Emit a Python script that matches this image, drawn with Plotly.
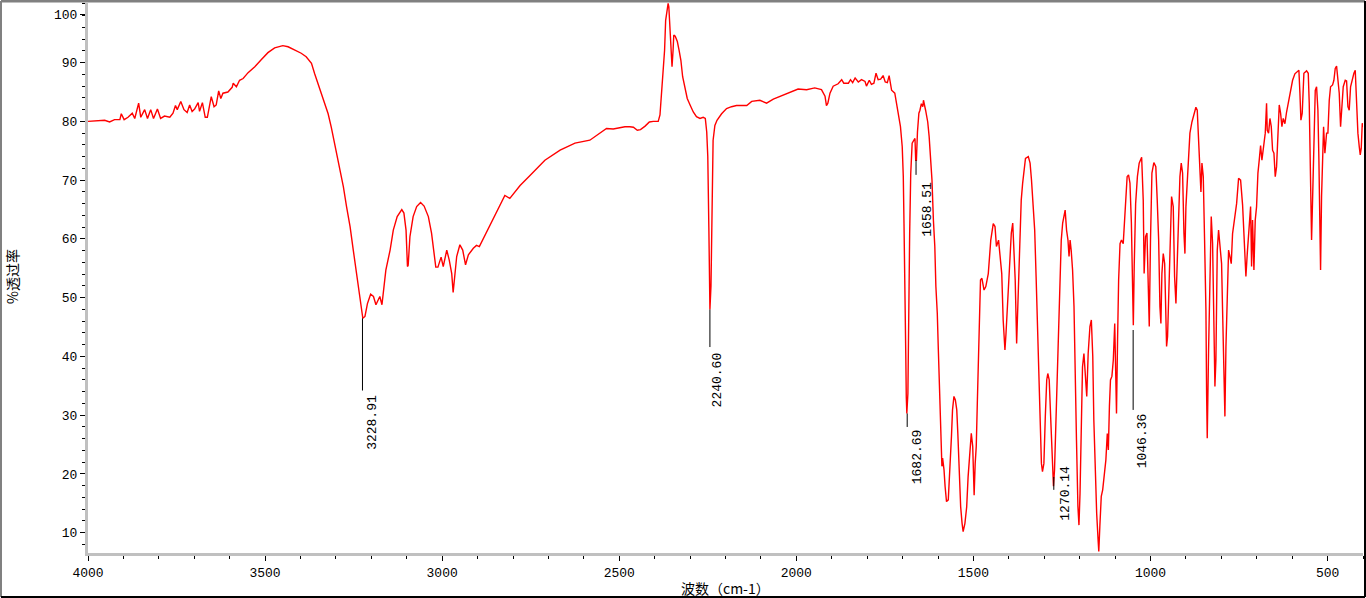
import plotly.graph_objects as go

# IR spectrum (wavenumber in cm-1, %T)
wavenumber = [
    4000, 3967, 3953, 3939, 3925, 3910, 3906, 3898, 3887, 3875, 3868, 3857, 3851, 3840, 3832, 3823,
    3815, 3804, 3795, 3784, 3769, 3760, 3753, 3748, 3738, 3729, 3720, 3713, 3706, 3699, 3689, 3685,
    3677, 3669, 3663, 3652, 3644, 3638, 3631, 3625, 3619, 3605, 3593, 3590, 3581, 3572, 3562, 3548,
    3529, 3511, 3492, 3473, 3450, 3435, 3417, 3398, 3384, 3369, 3360, 3351, 3341, 3332, 3322, 3313,
    3300, 3289, 3279, 3270, 3260, 3251, 3241, 3232, 3224, 3218, 3211, 3202, 3194, 3187, 3176, 3170,
    3164, 3159, 3147, 3138, 3127, 3114, 3108, 3102, 3098, 3096, 3091, 3082, 3072, 3061, 3051, 3039,
    3030, 3023, 3018, 3012, 3003, 2997, 2987, 2980, 2973, 2969, 2964, 2959, 2950, 2942, 2934, 2926,
    2912, 2903, 2895, 2865, 2837, 2823, 2809, 2780, 2752, 2710, 2667, 2625, 2583,
    2554, 2536, 2517, 2498, 2484, 2470, 2460, 2449, 2440, 2427, 2415, 2404, 2390, 2385, 2380, 2376,
    2372, 2369, 2365, 2362, 2360, 2357, 2354, 2351, 2348, 2346, 2342, 2336, 2331, 2326, 2321, 2315,
    2308, 2300, 2291, 2282, 2272, 2263, 2257, 2253, 2250, 2247, 2244, 2241, 2238, 2235, 2230, 2224,
    2211, 2197, 2183, 2169, 2140, 2126, 2103, 2084, 2065, 2042, 2018, 1995, 1971, 1948, 1929, 1919,
    1915, 1911, 1905, 1896, 1882, 1872, 1866, 1853, 1847, 1841, 1834, 1825, 1816, 1806, 1802, 1794,
    1788, 1781, 1775, 1769, 1762, 1755, 1749, 1743, 1738, 1734,
    1731, 1722, 1717, 1712, 1706, 1701, 1698, 1696, 1693, 1691, 1689.6, 1688, 1685, 1683, 1680, 1677,
    1673, 1668, 1665, 1663, 1661, 1658, 1654, 1651, 1647, 1643, 1641, 1635, 1629, 1625, 1621, 1617,
    1613, 1609, 1606, 1602, 1599, 1596, 1594, 1592, 1589, 1587, 1583, 1580, 1576, 1571, 1566, 1562,
    1559, 1555, 1551, 1547, 1544, 1540, 1536, 1532, 1529, 1524, 1519, 1515, 1510, 1506, 1502, 1498,
    1495, 1492, 1489, 1486, 1483, 1480, 1476, 1470, 1465, 1458, 1451, 1444, 1439, 1435, 1429, 1425,
    1420, 1416, 1411, 1408, 1404, 1401, 1397, 1393, 1389, 1385, 1382, 1378, 1375, 1372, 1369, 1365,
    1361, 1357, 1353, 1345, 1340, 1336, 1331, 1327, 1323, 1320, 1316, 1312, 1308, 1305, 1301, 1297,
    1293, 1290, 1286, 1282, 1279, 1276, 1274, 1271, 1267, 1263, 1259, 1256, 1252, 1248, 1244, 1241,
    1237, 1233, 1230, 1227, 1224, 1220, 1216, 1212, 1209, 1205, 1202, 1199, 1195, 1192, 1188, 1184,
    1180, 1176, 1171, 1167, 1163, 1160, 1156, 1152, 1148, 1146, 1143, 1139, 1135, 1131, 1126, 1122,
    1119, 1116, 1113, 1109, 1105, 1101, 1098, 1096, 1093, 1090, 1086, 1082, 1077, 1073, 1069, 1066,
    1062, 1058, 1054, 1051, 1048.5,
    1046, 1042, 1037, 1032, 1025, 1020.5, 1018, 1014, 1010, 1006, 1003.5, 1000, 996, 990.5, 985, 981,
    977, 973.4, 970.6, 967.8, 964, 960, 957.4, 954.6, 951.8, 948, 944, 940.5, 935.8, 932, 928.2, 924.5,
    920.7, 916.9, 913.2, 909.4, 905.6, 902.8, 900, 896.2, 892.5, 888.7, 883, 877.4, 871.8, 868, 864.2,
    860.5, 857.6, 854.8, 851, 847.3, 843.5, 841.6, 839.8, 836, 832.2, 828.5, 824.7, 820.9, 818.1, 815.3,
    811.5, 807.8, 804, 799.3, 796.5, 792.7, 789.9, 787, 783.3, 779.5, 775.8, 772, 768.3, 762.6, 756.9,
    751.3, 745.6, 740, 735.3, 730.6, 726.8, 721.2, 717.4, 714.6, 711.8, 708, 704.3, 700.5, 696.7, 693,
    689.2, 685.4, 681.7, 676, 672.3, 670.4, 666.6, 662.8, 659, 655.3, 651.5, 647.8, 644, 640.3, 636.5,
    632.7, 629, 625.2, 620.5, 615.8, 610.1, 604.5, 598.8, 592.3, 585.7, 581, 578.1, 575.3, 571.6, 566.9,
    559.3, 554.6, 551.8, 548, 545.2, 542.4, 538.6, 534.8, 531.1, 527.3, 524.5, 521.7, 519.8, 517, 514.1,
    511.3, 507.6, 502.8, 499.1, 495.3, 491.6, 485.9, 482.2, 478.4, 474.6, 470.9, 467.1, 463.3, 459.6,
    455.8, 450.1, 446.4, 442.6, 438.9, 435.1, 431.3, 425.7, 421.9, 418.1, 414.4, 410.6, 407.8, 405,
    402.1, 400,
]
transmittance = [
    80.0, 80.1, 80.2, 79.9, 80.3, 80.3, 81.3, 80.3, 80.7, 81.4, 80.5, 83.1, 80.7, 82.0, 80.5, 82.0,
    80.5, 82.1, 80.5, 80.9, 80.7, 81.4, 82.7, 82.0, 83.4, 82.0, 81.5, 82.8, 81.7, 82.1, 83.2, 81.7,
    83.2, 80.7, 80.7, 84.2, 82.5, 82.8, 85.2, 83.9, 84.8, 85.0, 85.8, 86.5, 85.9, 87.0, 87.3, 88.3,
    89.3, 90.5, 91.7, 92.5, 92.9, 92.7, 92.2, 91.6, 91.0, 89.9, 88.1, 86.4, 84.7, 83.0, 81.3, 79.0,
    75.1, 71.7, 68.9, 65.5, 62.1, 58.1, 53.6, 49.6, 46.5, 46.8, 49.0, 50.6, 50.2, 48.8, 50.2, 48.8,
    51.9, 54.7, 58.1, 61.5, 63.8, 65.0, 64.4, 61.5, 55.3, 55.5, 60.4, 63.8, 65.5, 66.2, 65.6, 63.8,
    61.0, 57.6, 55.2, 55.2, 56.9, 55.3, 58.1, 56.4, 54.1, 50.9, 54.1, 57.0, 59.0, 58.1, 55.6, 57.3,
    58.4, 58.9, 58.7, 62.3, 65.7, 67.4, 66.9, 69.1, 70.8, 73.4, 75.1, 76.3, 76.8,
    78.0, 78.8, 78.7, 79.0, 79.1, 79.1, 79.0, 78.5, 78.6, 79.2, 79.9, 80.0, 80.0, 81.1, 85.6, 88.7,
    92.1, 97.2, 99.5, 100.1, 99.5, 96.6, 92.1, 89.3, 92.1, 94.7, 94.5, 93.6, 92.1, 90.4, 87.6, 85.9,
    83.9, 82.8, 81.6, 80.8, 80.5, 80.7, 80.5, 78.2, 74.0, 62.0, 48.0, 52.0, 66.0, 76.8, 79.3, 80.2,
    81.3, 82.2, 82.5, 82.7, 82.7, 83.4, 83.6, 83.1, 83.8, 84.4, 85.0, 85.5, 85.4, 85.7, 85.4, 84.3,
    82.7, 83.1, 84.8, 86.0, 86.4, 87.1, 86.5, 86.5, 87.1, 86.6, 87.4, 86.7, 87.1, 86.8, 86.0, 87.0,
    86.3, 86.5, 88.2, 87.1, 87.2, 87.8, 86.7, 86.6, 87.8, 86.6,
    85.3, 84.8, 83.1, 81.4, 79.1, 75.7, 70.6, 62.6, 53.0, 40.5, 33.2, 30.3, 33.7, 47.3, 61.0, 71.1,
    76.3, 76.8, 77.1, 73.4, 73.4, 78.2, 81.4, 81.9, 83.0, 82.5, 83.6, 81.9, 79.9, 77.4, 74.0, 70.0,
    63.2, 58.7, 51.9, 47.3, 41.1, 35.4, 29.8, 24.1, 21.3, 22.7, 20.7, 17.9, 15.3, 15.6, 20.7, 26.4,
    30.9, 33.2, 32.6, 30.9, 26.9, 20.7, 14.4, 11.6, 10.2, 11.6, 14.4, 19.5, 23.0, 26.9, 24.7, 16.4,
    21.8, 24.7, 32.0, 38.3, 47.3, 53.0, 53.3, 51.3, 51.9, 54.1, 59.8, 62.6, 62.1, 58.7, 59.8, 57.5,
    54.1, 46.2, 41.1, 43.9, 48.5, 54.1, 57.0, 61.0, 62.7, 57.0, 53.0, 42.2, 48.5, 54.1, 61.0, 66.6,
    69.5, 72.3, 73.7, 74.0, 72.9, 70.0, 66.0, 61.5, 53.6, 47.3, 37.1, 29.2, 21.8, 20.4, 21.8, 29.8,
    36.0, 37.1, 36.0, 29.8, 24.1, 19.0, 17.9, 20.7, 28.6, 37.1, 45.6, 52.4, 59.8, 62.7, 64.3, 64.9,
    61.5, 59.8, 57.0, 59.8, 58.1, 54.7, 48.5, 38.2, 25.8, 14.5, 11.3, 16.7, 27.5, 38.2, 40.5, 37.1,
    33.2, 40.5, 45.1, 46.2, 40.0, 29.2, 20.1, 13.3, 8.8, 6.8, 11.1, 16.2, 17.3, 20.1, 22.4, 26.9,
    24.1, 31.5, 36.0, 36.6, 39.4, 45.6, 36.0, 30.3, 42.8, 53.0, 59.2, 59.8, 59.2, 63.8, 67.2, 70.6,
    70.9, 69.5, 62.7, 54.1, 45.3,
    55.3, 66.0, 70.6, 72.9, 73.9, 66.6, 54.1, 60.4, 61.0, 49.0, 45.1, 59.8, 71.2, 73.0, 72.3, 66.6,
    59.8, 48.5, 45.6, 54.1, 57.5, 55.8, 49.6, 41.7, 43.4, 51.3, 59.8, 67.2, 65.5, 53.6, 49.0, 57.0,
    64.3, 70.6, 72.9, 71.2, 61.0, 57.5, 65.5, 70.6, 75.7, 78.0, 79.9, 81.4, 82.4, 81.9, 76.3,
    72.3, 68.0, 72.9, 70.6, 59.8, 47.9, 33.7, 26.1, 41.1, 56.4, 63.8, 59.2, 45.1, 34.9, 39.4,
    58.1, 61.5, 58.7, 55.8, 47.9, 38.3, 29.8, 41.7, 50.7, 58.1, 57.0, 55.8, 60.9, 63.5, 66.0,
    70.3, 70.0, 65.8, 58.7, 53.6, 57.5, 63.2, 65.5, 55.3, 63.2, 54.7, 63.2, 65.5, 71.2, 73.4,
    75.9, 73.4, 75.1, 78.0, 83.1, 78.5, 78.0, 80.5, 79.1, 75.1, 74.6, 70.6, 72.3, 78.0, 82.8,
    81.4, 79.1, 80.5, 79.6, 81.6, 83.6, 85.3, 87.0, 88.1, 88.4, 88.7, 84.8, 80.2, 81.4, 88.2,
    88.6, 88.2, 83.1, 70.6, 59.8, 66.6, 76.3, 85.3, 85.9, 81.9, 73.4, 60.4, 54.7, 67.2, 76.8,
    79.1, 74.6, 78.0, 78.0, 83.6, 85.9, 86.2, 87.0, 89.0, 89.4, 87.6, 84.8, 79.1, 83.6,
    85.9, 87.0, 86.9, 82.5, 81.9, 85.9, 87.0, 88.2, 88.7, 83.1, 78.0, 75.7, 74.3, 75.4,
    79.7, 79.0,
]

# picked peaks: label, line x, line top/bottom, label top
peak_labels = ["3228.91", "2240.60", "1682.69", "1658.51", "1270.14", "1046.36"]
peak_wn = [3225, 2244, 1687, 1662, 1273, 1049]
peak_top = [46.5, 48.0, 30.3, 73.4, 19.5, 44.5]
peak_bottom = [34.2, 41.6, 28.0, 70.9, 17.3, 30.9]
label_top = [33.8, 41.1, 27.9, 70.0, 21.8, 30.6]
label_shift = [10, 8, 10, 12, 12, 9]

y_ticks = [10, 20, 30, 40, 50, 60, 70, 80, 90, 98.2]
y_ticktext = ["10", "20", "30", "40", "50", "60", "70", "80", "90", "100"]

MONO = "Liberation Mono, DejaVu Sans Mono, monospace"
CJK = "Noto Sans CJK SC, sans-serif"

fig = go.Figure()
fig.add_trace(go.Scatter(
    x=wavenumber, y=transmittance, mode="lines",
    line=dict(color="#ff0000", width=1.4), showlegend=False))

for lab, wn, t0, t1, tt, dx in zip(peak_labels, peak_wn, peak_top,
                                   peak_bottom, label_top, label_shift):
    fig.add_shape(type="line", x0=wn, x1=wn, y0=t0, y1=t1,
                  line=dict(color="black", width=1))
    fig.add_annotation(x=wn, y=tt, text=lab, textangle=-90, showarrow=False,
                       xanchor="center", yanchor="top", xshift=dx,
                       font=dict(family=MONO, size=13, color="black"))

# axis titles
fig.add_annotation(xref="paper", yref="paper", x=0.5, y=-0.064, text="波数（cm-1）",
                   showarrow=False, xanchor="center", yanchor="middle",
                   font=dict(family=CJK, size=14, color="black"))
fig.add_annotation(xref="paper", yref="paper", x=-0.0596, y=0.502, text="%透过率",
                   textangle=-90, showarrow=False, xanchor="center", yanchor="middle",
                   font=dict(family=CJK, size=14, color="black"))

# window frame (sunken look: grey top/left, black bottom/right)
PW, PH = 1275.0, 550.0
fx0, fx1 = -87.0 / PW, 1277.0 / PW
fy0, fy1 = -44.0 / PH, 1 + 2.0 / PH
fig.add_shape(type="line", xref="paper", yref="paper", x0=fx0, x1=fx0, y0=fy0, y1=fy1,
              line=dict(color="#808080", width=2))
fig.add_shape(type="line", xref="paper", yref="paper", x0=fx0, x1=fx1, y0=fy1, y1=fy1,
              line=dict(color="#808080", width=3))
fig.add_shape(type="line", xref="paper", yref="paper", x0=fx1, x1=fx1, y0=fy0, y1=fy1,
              line=dict(color="black", width=2))
fig.add_shape(type="line", xref="paper", yref="paper", x0=fx0, x1=fx1, y0=fy0, y1=fy0,
              line=dict(color="black", width=2))

fig.update_xaxes(
    range=[4000, 400], tickmode="array", tickvals=[4000, 3500, 3000, 2500, 2000, 1500, 1000, 500],
    showline=True, linecolor="#c0c0c0", linewidth=3, showgrid=False, zeroline=False,
    ticks="outside", ticklen=5, tickcolor="black", tickwidth=1, automargin=False,
    minor=dict(dtick=100, tick0=0, ticks="outside", ticklen=3, tickcolor="black", showgrid=False),
    tickfont=dict(family=MONO, size=13, color="black"),
)
fig.update_yaxes(
    range=[6.55, 100.15], tickmode="array", tickvals=y_ticks, ticktext=y_ticktext,
    showline=True, linecolor="#c0c0c0", linewidth=3, showgrid=False, zeroline=False,
    ticks="outside", ticklen=5, tickcolor="black", tickwidth=1, automargin=False,
    minor=dict(dtick=2, tick0=0, ticks="outside", ticklen=3, tickcolor="black", showgrid=False),
    tickfont=dict(family=MONO, size=13, color="black"),
)
fig.update_layout(
    width=1366, height=598,
    paper_bgcolor="white", plot_bgcolor="white",
    margin=dict(l=88, r=3, t=3, b=45),
    showlegend=False,
)
# page body has an 8px default margin; drop it so the figure sits at the window corner
fig.write_html("out.html", config={"displayModeBar": False},
               post_script="document.body.style.margin='0';document.body.style.overflow='hidden';")
